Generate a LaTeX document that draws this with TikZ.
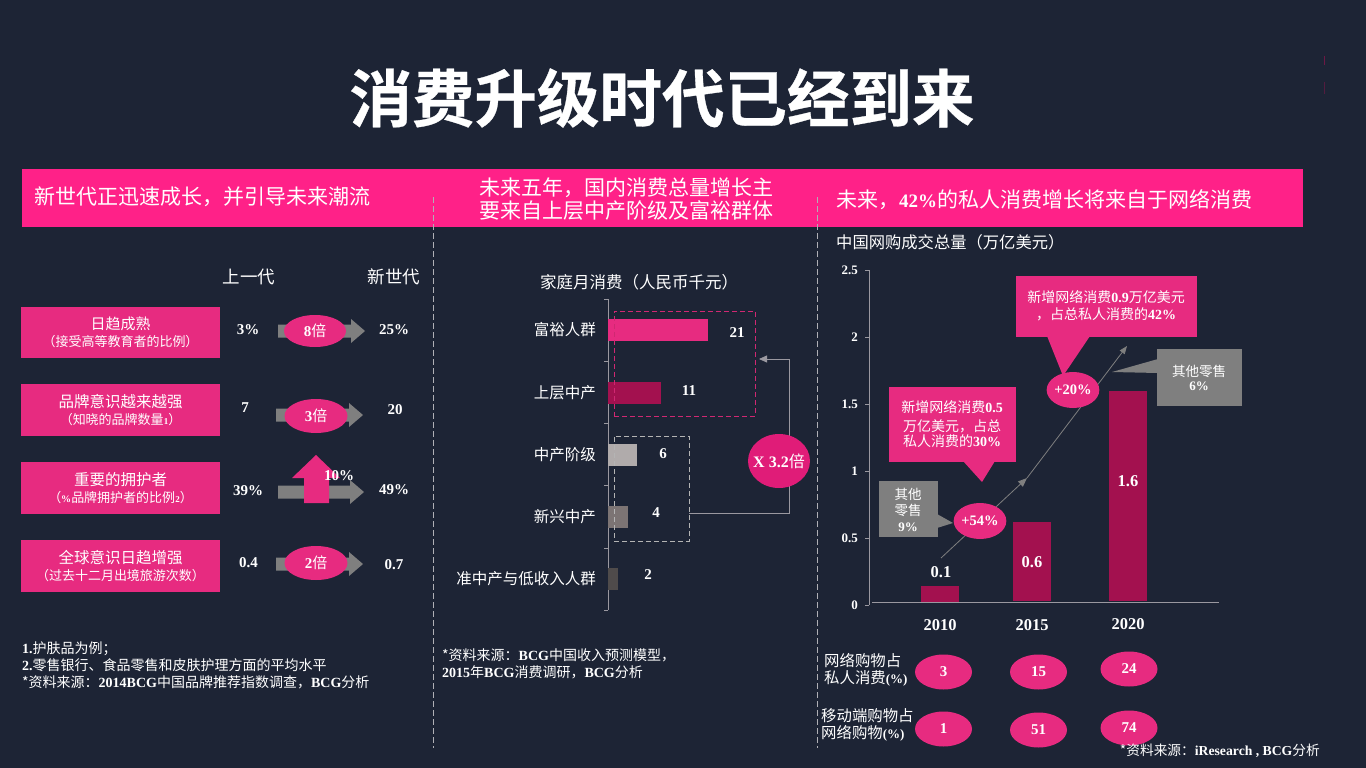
\documentclass[tikz,border=0pt]{standalone}
\usepackage{fontspec}
\setmainfont{Noto Sans CJK SC}
\newfontfamily\enf{Liberation Serif}[BoldFont={Liberation Serif Bold}]
\newfontfamily\titf{Noto Sans CJK SC}[BoldFont={Noto Sans CJK SC Bold},BoldFeatures={FakeBold=0.5}]
\newcommand{\en}[1]{{\enf\bfseries #1}}
\newcommand{\sz}[1]{\fontsize{#1}{#1}\selectfont}
\definecolor{bgc}{HTML}{1D2435}
\definecolor{bann}{HTML}{FF2188}
\definecolor{pinkc}{HTML}{E72B80}
\definecolor{darkm}{HTML}{A3114F}
\definecolor{greyc}{HTML}{7F7F7F}
\definecolor{linec}{HTML}{9A98A0}
\definecolor{bara}{HTML}{B0ABAB}
\definecolor{barb}{HTML}{7C7474}
\definecolor{barc}{HTML}{4F4B4B}
\definecolor{dashp}{HTML}{D02872}
\definecolor{dashg}{HTML}{B4B4B4}
\definecolor{divc}{HTML}{B0B0B6}
\definecolor{exc}{HTML}{E01C78}
\tikzset{
  txt/.style={text=white,inner sep=0pt,align=center},
  sz/.style={font=\sz{#1}},
  val/.style={txt,font=\sz{15}\enf\bfseries},
  valb/.style={txt,font=\sz{16.5}\enf\bfseries},
  box/.style={fill=pinkc,inner sep=0pt,text=white,align=center},
  oval/.style={ellipse,fill=pinkc,inner sep=0pt,text=white},
  tick/.style={draw=linec,line width=0.8pt},
  dashv/.style={draw=divc,dash pattern=on 6pt off 3pt,line width=0.8pt},
  small/.style={oval,minimum width=57pt,minimum height=35pt,font=\sz{15}\enf\bfseries},
}
\usetikzlibrary{shapes.geometric,arrows.meta}
\newcommand{\garrow}[3]{\fill[greyc] (#1,#3-6.5)--(#2-14,#3-6.5)--(#2-14,#3-12)--(#2,#3)--(#2-14,#3+12)--(#2-14,#3+6.5)--(#1,#3+6.5)--cycle;}
\begin{document}
\begin{tikzpicture}[x=1pt,y=-1pt]
\useasboundingbox (0,0) rectangle (1366,768);
\fill[bgc] (0,0) rectangle (1366,768);
% faint marks
\fill[darkm!60!bgc] (1324.2,56) rectangle (1325.2,65);
\fill[darkm!40!bgc] (1324.2,82) rectangle (1325.2,94);
% title
\node[txt,font=\sz{62.5}\titf\bfseries] (title) at (662,98) {消费升级时代已经到来};
% banner
\node[fill=bann,minimum width=1281pt,minimum height=58pt,inner sep=0pt] (banner) at (662.5,198) {};
\node[txt,sz=21,anchor=west] (b1) at (34,196.5) {新世代正迅速成长，并引导未来潮流};
\node[txt,sz=21] (b2a) at (626,187.5) {未来五年，国内消费总量增长主};
\node[txt,sz=21] (b2b) at (626,210.5) {要来自上层中产阶级及富裕群体};
\node[txt,sz=21,anchor=west] (b3) at (836,199.5) {未来，\en{\sz{19}42\%}的私人消费增长将来自于网络消费};
% dashed dividers
\coordinate (d1a) at (433,197); \coordinate (d1b) at (433,748);
\coordinate (d2a) at (817,197); \coordinate (d2b) at (817,748);
\draw[dashv] (d1a)--(d1b);
\draw[dashv] (d2a)--(d2b);
% left column
\node[txt,sz=17.5] (h1) at (249,277) {上一代};
\node[txt,sz=17.5] (h2) at (394,277) {新世代};
\node[box,minimum width=199pt,minimum height=51pt] (l1) at (120.5,332.5) {{\sz{15}日趋成熟}\\[3pt]{\sz{13}（接受高等教育者的比例）}};
\node[box,minimum width=199pt,minimum height=52pt] (l2) at (120.5,410) {{\sz{15.5}品牌意识越来越强}\\[3pt]{\sz{13}（知晓的品牌数量\en{\sz{9}1}）}};
\node[box,minimum width=199pt,minimum height=52pt] (l3) at (120.5,488) {{\sz{15.5}重要的拥护者}\\[3pt]{\sz{13}（\en{\sz{10}\%}品牌拥护者的比例\en{\sz{9}2}）}};
\node[box,minimum width=199pt,minimum height=52pt] (l4) at (120.5,566) {{\sz{15.5}全球意识日趋增强}\\[3pt]{\sz{13}（过去十二月出境旅游次数）}};
\garrow{278}{365}{331}
\garrow{276}{363}{415}
\garrow{278}{364}{492}
\garrow{276}{363}{564}
\node[oval,minimum width=62pt,minimum height=32pt,font=\sz{15}] (e1) at (315,331) {\en{8}倍};
\node[oval,minimum width=63pt,minimum height=34pt,font=\sz{15}] (e2) at (316,416) {\en{3}倍};
\node[oval,minimum width=63pt,minimum height=34pt,font=\sz{15}] (e3) at (316,563) {\en{2}倍};
\fill[pinkc] (304,503)--(304,478)--(292,478)--(316,455)--(340,478)--(329,478)--(329,503)--cycle;
\node[val] (v10) at (339,476) {10\%};
\node[val] (v1a) at (248,330) {3\%};
\node[val] (v1b) at (394,330) {25\%};
\node[val] (v2a) at (245,408) {7};
\node[val] (v2b) at (395,410) {20};
\node[val] (v3a) at (248,491) {39\%};
\node[val] (v3b) at (394,490) {49\%};
\node[val] (v4a) at (248.5,563) {0.4};
\node[val] (v4b) at (394,565) {0.7};
\node[txt,anchor=west,font=\sz{14}] (f1) at (22,648.5) {\en{1.}护肤品为例；};
\node[txt,anchor=west,font=\sz{14}] (f2) at (22,665) {\en{2.}零售银行、食品零售和皮肤护理方面的平均水平};
\node[txt,anchor=west,font=\sz{14}] (f3) at (22,682) {*资料来源：\en{2014BCG}中国品牌推荐指数调查，\en{BCG}分析};
% middle column
\node[txt,sz=16.5] (mt) at (639,282) {家庭月消费（人民币千元）};
\coordinate (ax1) at (608,299); \coordinate (ax2) at (608,610);
\draw[tick] (ax1)--(ax2);
\foreach \yy in {299,361,423,485,548,610} \draw[tick] (604,\yy)--(608,\yy);
\fill[pinkc] (608,319) rectangle (708,341);
\fill[darkm] (608,382) rectangle (661,404);
\fill[bara] (608,444) rectangle (637,466);
\fill[barb] (608,506) rectangle (628,528);
\fill[barc] (608,568) rectangle (618,590);
\node[val] (m1) at (737,333) {21};
\node[val] (m2) at (689,391) {11};
\node[val] (m3) at (663,454) {6};
\node[val] (m4) at (656,513) {4};
\node[val] (m5) at (648,575) {2};
\node[txt,sz=15.5,anchor=east] (ml1) at (596,330) {富裕人群};
\node[txt,sz=15.5,anchor=east] (ml2) at (596,393) {上层中产};
\node[txt,sz=15.5,anchor=east] (ml3) at (596,455) {中产阶级};
\node[txt,sz=15.5,anchor=east] (ml4) at (596,517) {新兴中产};
\node[txt,sz=15.5,anchor=east] (ml5) at (596,579) {准中产与低收入人群};
\node[draw=dashp,dash pattern=on 5pt off 3pt,line width=0.8pt,minimum width=141pt,minimum height=105pt,inner sep=0pt] (pb) at (684.5,363.5) {};
\node[draw=dashg,dash pattern=on 5pt off 3pt,line width=0.8pt,minimum width=75pt,minimum height=105pt,inner sep=0pt] (gb) at (651.5,488.5) {};
\coordinate (cs) at (689,513); \coordinate (ct) at (759,359);
\draw[draw=linec,line width=0.8pt,-{Triangle[length=8pt,width=7pt]}] (cs)-|(789,359)--(ct);
\node[ellipse,fill=exc,inner sep=0pt,minimum width=62pt,minimum height=54pt] (ex) at (779,461) {};
\node[txt,font=\sz{16}] (ext) at (ex.center) {\en{X 3.2}倍};
\node[txt,anchor=west,font=\sz{14}] (mf1) at (442,655.5) {*资料来源：\en{BCG}中国收入预测模型，};
\node[txt,anchor=west,font=\sz{14}] (mf2) at (442,672.5) {\en{2015}年\en{BCG}消费调研，\en{BCG}分析};
% right column
\node[txt,anchor=west,sz=16.3] (rt) at (836,242) {中国网购成交总量（万亿美元）};
\coordinate (ry1) at (869,270); \coordinate (ry2) at (869,605);
\draw[tick] (ry1)--(ry2);
\foreach \yy/\vv in {270/2.5,337/2,404/1.5,471/1,538/0.5,605/0} {
  \draw[tick] (865,\yy)--(869,\yy);
  \node[txt,anchor=east,font=\sz{13}\enf\bfseries] at (858,\yy) {\vv};
}
\coordinate (rx1) at (872,602); \coordinate (rx2) at (1219,602);
\draw[tick] (rx1)--(rx2);
\fill[darkm] (921,586) rectangle (959,602);
\fill[darkm] (1013,522) rectangle (1051,601);
\fill[darkm] (1109,391) rectangle (1147,601);
\node[valb] (r1) at (941,572) {0.1};
\node[valb] (r2) at (1032,562) {0.6};
\node[valb] (r3) at (1128,481) {1.6};
\node[valb] (y1) at (940,625) {2010};
\node[valb] (y2) at (1032,625) {2015};
\node[valb] (y3) at (1128,624) {2020};
\coordinate (g1) at (941,558); \coordinate (g2) at (1027,478); \coordinate (g3) at (1127,346);
\draw[draw=greyc,line width=0.8pt,-{Triangle[length=9pt,width=7pt]}] (g1)--(g2);
\draw[draw=greyc,line width=0.8pt,-{Triangle[length=8pt,width=6pt]}] (g2)--(g3);
% callouts
\fill[pinkc] (963,461)--(995,461)--(982,482)--cycle;
\fill[pinkc] (1047,336)--(1090,336)--(1063,376)--cycle;
\fill[greyc] (937,514)--(953,523)--(937,528)--cycle;
\fill[greyc] (1158,359)--(1112,372)--(1158,373)--cycle;
\node[box,minimum width=127pt,minimum height=75pt] (c1) at (952.5,424.5) {};
\node[box,minimum width=181pt,minimum height=61pt] (c2) at (1106.5,306.5) {};
\node[fill=greyc,inner sep=0pt,minimum width=59pt,minimum height=56pt] (c3) at (908.5,509) {};
\node[fill=greyc,inner sep=0pt,minimum width=85pt,minimum height=57pt] (c4) at (1199.5,377.5) {};
\node[txt,font=\sz{14}] (c1a) at (952,407) {新增网络消费\en{0.5}};
\node[txt,font=\sz{14}] (c1b) at (952,426) {万亿美元，占总};
\node[txt,font=\sz{14}] (c1c) at (952,441) {私人消费的\en{30\%}};
\node[txt,font=\sz{14}] (c2a) at (1106,297) {新增网络消费\en{0.9}万亿美元};
\node[txt,font=\sz{14}] (c2b) at (1106,314) {，占总私人消费的\en{42\%}};
\node[txt,font=\sz{13.5}] (c3a) at (908,494) {其他};
\node[txt,font=\sz{13.5}] (c3b) at (908,510) {零售};
\node[txt,font=\sz{13}\enf\bfseries] (c3c) at (908,527) {9\%};
\node[txt,font=\sz{13.5}] (c4a) at (1199,371) {其他零售};
\node[txt,font=\sz{13}\enf\bfseries] (c4b) at (1199,386) {6\%};
\node[oval,minimum width=52pt,minimum height=36pt,font=\sz{14.5}\enf\bfseries] (p54) at (980,521) {+54\%};
\node[oval,minimum width=51pt,minimum height=36pt,font=\sz{14.5}\enf\bfseries] (p20) at (1073,390) {+20\%};
% bottom ovals
\node[txt,anchor=west,font=\sz{15.4}] (q1) at (824,661) {网络购物占};
\node[txt,anchor=west,font=\sz{15.4}] (q2) at (824,678) {私人消费\en{\sz{13}(\%)}};
\node[txt,anchor=west,font=\sz{15.4}] (q3) at (821,716) {移动端购物占};
\node[txt,anchor=west,font=\sz{15.4}] (q4) at (821,733) {网络购物\en{\sz{13}(\%)}};
\node[small] (o1) at (943.5,672) {3};
\node[small] (o2) at (1038.5,672) {15};
\node[small] (o3) at (1129,669) {24};
\node[small] (o4) at (943.5,729) {1};
\node[small] (o5) at (1038.5,730) {51};
\node[small] (o6) at (1129,728) {74};
\node[txt,anchor=east,font=\sz{13.7}] (src) at (1320,751) {*资料来源：\en{iResearch , BCG}分析};
\end{tikzpicture}
\end{document}
